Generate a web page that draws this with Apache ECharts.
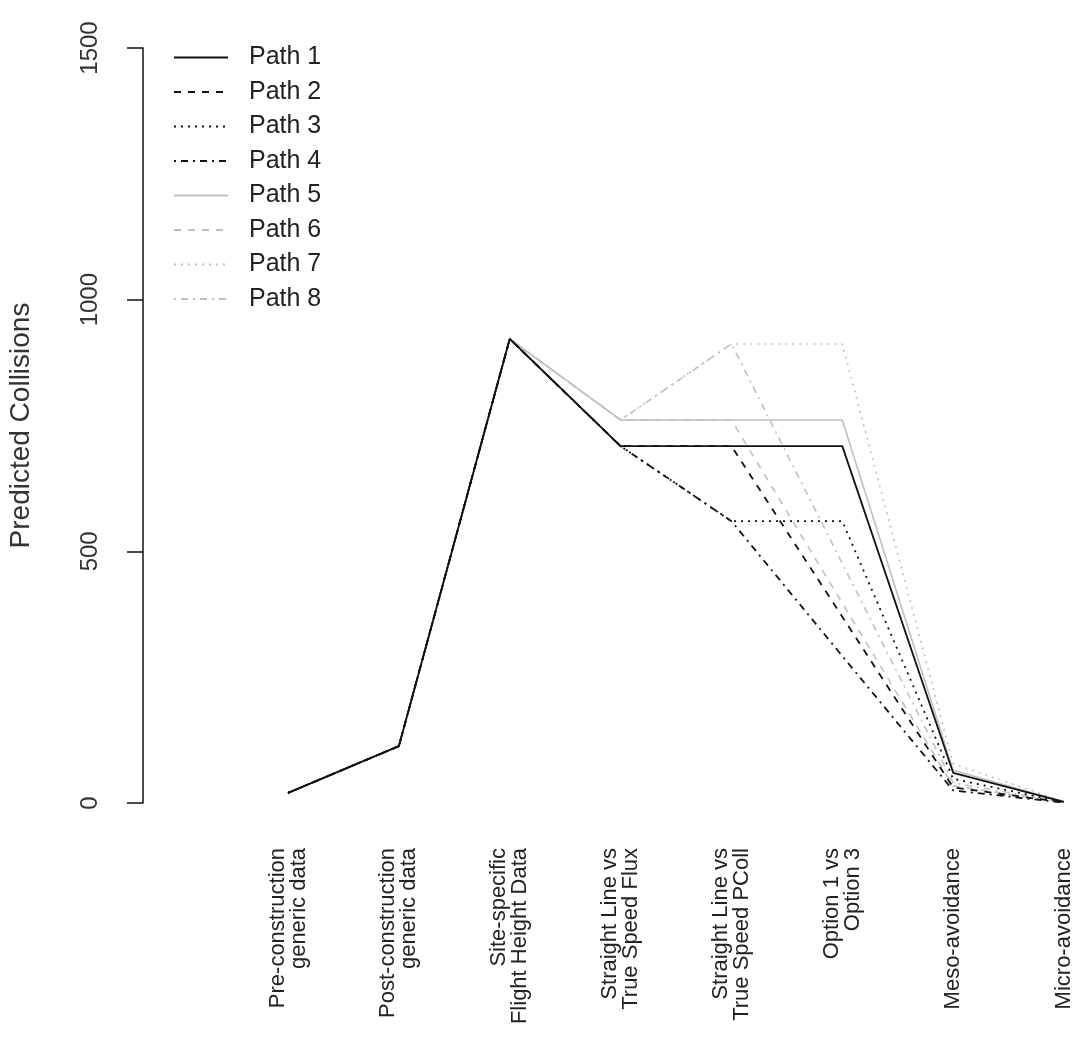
<!DOCTYPE html>
<html>
<head>
<meta charset="utf-8">
<script src="https://cdn.jsdelivr.net/npm/echarts@6/dist/echarts.min.js"></script>
<style>
  html, body { margin: 0; padding: 0; background: #fff; }
  #chart { width: 1077px; height: 1044px; }
</style>
</head>
<body>
<div id="chart"></div>
<script>
// categories on the x axis
var categories = [
  "Pre-construction\ngeneric data",
  "Post-construction\ngeneric data",
  "Site-specific\nFlight Height Data",
  "Straight Line vs\nTrue Speed Flux",
  "Straight Line vs\nTrue Speed PColl",
  "Option 1 vs\nOption 3",
  "Meso-avoidance",
  "Micro-avoidance"
];

// predicted collisions for each path
var path1 = [20, 113, 922, 709, 709, 709, 60, 2];
var path2 = [20, 113, 922, 709, 709, 370, 31, 1];
var path3 = [20, 113, 922, 709, 560, 560, 48, 1.5];
var path4 = [20, 113, 922, 709, 560, 292, 25, 0.8];
var path5 = [20, 113, 922, 761, 761, 761, 65, 2.2];
var path6 = [20, 113, 922, 761, 761, 397, 34, 1.1];
var path7 = [20, 113, 922, 761, 912, 912, 78, 2.6];
var path8 = [20, 113, 922, 761, 912, 476, 40, 1.3];

var yTicks = [0, 500, 1000, 1500];

var pathNames = ["Path 1", "Path 2", "Path 3", "Path 4", "Path 5", "Path 6", "Path 7", "Path 8"];
var pathData = [path1, path2, path3, path4, path5, path6, path7, path8];

// R style line types: solid, dashed, dotted, dotdash
var dashes = ["solid", [7, 7], [2, 5], [2, 5, 7, 5]];

var myChart = echarts.init(document.getElementById("chart"));

var series = pathData.map(function(d, i) {
  var black = i < 4;
  return {
    name: pathNames[i],
    type: "line",
    data: d,
    symbol: "none",
    z: black ? 4 : 2, // black paths drawn over the grey ones
    animation: false,
    lineStyle: {
      color: black ? "#111" : "#c0c0c0",
      width: black ? 1.8 : 1.6,
      type: dashes[i % 4]
    },
    itemStyle: { color: black ? "#111" : "#c0c0c0" }
  };
});

myChart.setOption({
  backgroundColor: "#fff",
  animation: false,
  textStyle: { fontFamily: "Liberation Sans, Arial, sans-serif" },
  grid: {
    left: 288,
    right: 13,
    top: 48,
    bottom: 241,
    containLabel: false,
    outerBoundsMode: "none"
  },
  legend: {
    orient: "vertical",
    left: 168,
    top: 40,
    itemWidth: 54,
    itemHeight: 12,
    itemGap: 9.5,
    data: pathNames,
    itemStyle: { opacity: 0 }, // hide the symbol, keep the line
    textStyle: {
      fontSize: 25,
      color: "#222",
      padding: [0, 0, 0, 16],
      fontFamily: "Liberation Sans, Arial, sans-serif"
    }
  },
  xAxis: {
    type: "category",
    data: categories,
    boundaryGap: false,
    axisLine: { show: false },
    axisTick: { show: false },
    splitLine: { show: false },
    axisLabel: {
      interval: 0,
      rotate: 90,
      margin: 45,
      fontSize: 22,
      lineHeight: 21,
      color: "#222"
    }
  },
  yAxis: {
    type: "value",
    min: 0,
    max: 1500,
    interval: 500,
    offset: 145,
    name: "Predicted Collisions",
    nameLocation: "middle",
    nameGap: 108,
    nameRotate: 90,
    nameTextStyle: { fontSize: 28, color: "#333" },
    axisLine: { show: true, lineStyle: { color: "#111", width: 1.5 } },
    axisTick: { show: true, length: 16, lineStyle: { color: "#111", width: 1.5 } },
    splitLine: { show: false },
    axisLabel: {
      rotate: 90,
      margin: 41,
      fontSize: 24,
      color: "#333",
      customValues: yTicks,
      formatter: function(v) { return String(v); }
    }
  },
  series: series
});
</script>
</body>
</html>
